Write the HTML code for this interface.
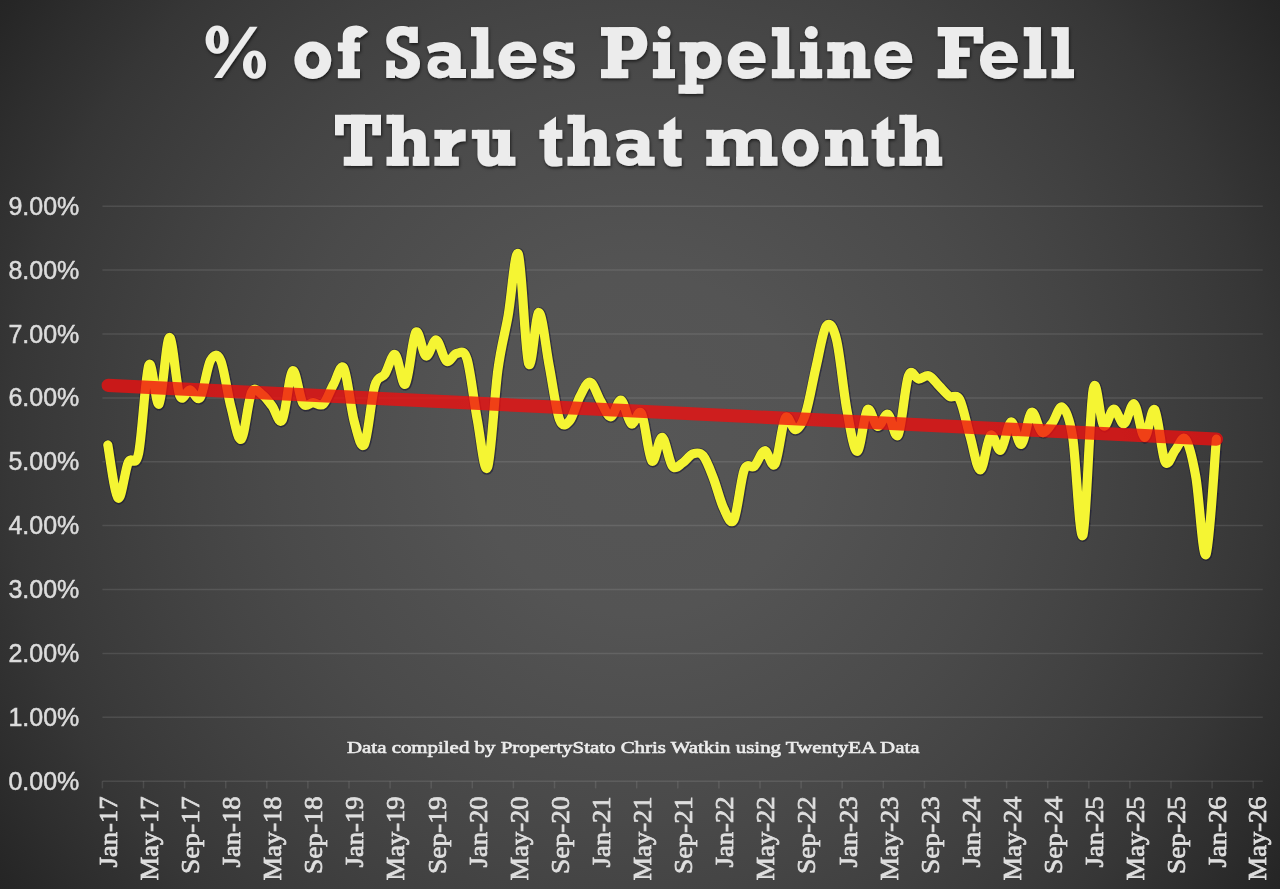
<!DOCTYPE html>
<html><head><meta charset="utf-8"><title>% of Sales Pipeline Fell Thru that month</title>
<style>
html,body{margin:0;padding:0;background:#333;}
body{width:1280px;height:889px;overflow:hidden;position:relative;font-family:"Liberation Sans",sans-serif;}
#bg{position:absolute;left:0;top:0;width:1280px;height:889px;
background:radial-gradient(circle 779.2px at 640px 444.5px, #565656 0%, #545454 21.8%, #4a4a4a 46.6%, #454545 56.5%, #404040 65.3%, #3a3a3a 75.1%, #363636 81%, #333333 84.1%, #2e2e2e 90%, #262626 98.6%, #252525 100%);}
svg{position:absolute;left:0;top:0;}
.grid line{stroke:#fff;stroke-opacity:0.10;stroke-width:1.5;}
.ticks line{stroke:#fff;stroke-opacity:0.10;stroke-width:1.5;}
.ylab text{font-family:"Liberation Sans",sans-serif;font-size:25px;fill:#dcdcdc;stroke:#dcdcdc;stroke-width:0.5px;}
.xlab text{font-family:"Liberation Serif",serif;font-size:26px;fill:#dedede;stroke:#dedede;stroke-width:0.75px;}
.title text{font-family:"Liberation Serif",serif;font-weight:bold;font-size:71px;fill:#ececec;stroke:#ececec;stroke-width:2.6px;stroke-linejoin:miter;}
.cap{font-family:"Liberation Serif",serif;font-size:16.5px;fill:#ececec;stroke:#ececec;stroke-width:0.6px;}
</style></head><body>
<div id="bg"></div>
<svg width="1280" height="889" viewBox="0 0 1280 889">
<defs>
<filter id="nop" x="-5%" y="-5%" width="110%" height="110%"><feOffset dx="0" dy="0"/></filter>
<filter id="ts" x="-5%" y="-20%" width="110%" height="150%"><feDropShadow dx="0.8" dy="1.7" stdDeviation="1.5" flood-color="#000" flood-opacity="0.62"/></filter>
<filter id="ls" x="-2%" y="-10%" width="104%" height="120%"><feGaussianBlur stdDeviation="0.55"/></filter>
<g id="g_pc"><path d="M0.00 -38.40A11.50 14.10 0 1 0 23.00 -38.40A11.50 14.10 0 1 0 0.00 -38.40Z M8.15 -38.40A3.25 9.10 0 1 0 14.65 -38.40A3.25 9.10 0 1 0 8.15 -38.40Z" fill-rule="evenodd"/><path d="M37.40 -13.40A11.50 14.10 0 1 0 60.40 -13.40A11.50 14.10 0 1 0 37.40 -13.40Z M45.65 -13.40A3.25 9.20 0 1 0 52.15 -13.40A3.25 9.20 0 1 0 45.65 -13.40Z" fill-rule="evenodd"/><path d="M44.1 -51.25H51.9L16.25 0H8.4Z"/></g><g id="g_F"><path d="M0.00 -51.00H45.40V-41.85H0.00Z"/><path d="M36.00 -43.00H45.40V-34.60H36.00Z"/><path d="M7.25 -51.00H21.25V0.00H7.25Z"/><path d="M19.50 -30.40H32.00V-21.25H19.50Z"/><path d="M0.00 -9.00H28.75V0.00H0.00Z"/></g><g id="g_P"><path d="M0.00 -9.00H27.25V0.00H0.00Z"/><path d="M6.90 -51.00H20.60V0.00H6.90Z"/><path d="M0.00 -51.00H8.50V-42.25H0.00Z"/><path d="M18.5 -51H32.5A13.75 16.3 0 0 1 32.5 -18.4H18.5Z M20.6 -42.3H27A5.5 7.45 0 0 1 27 -27.4H20.6Z" fill-rule="evenodd"/></g><g id="g_S"><path d="M23.1 -51.25H31.6V-35H23.1V-40.6C21 -42.5 18.5 -43 16.25 -42.9C12.5 -42.7 10.3 -40 10.6 -36.9C10.9 -33.5 13.5 -31.5 17 -30L26 -26C31 -23.5 33.75 -20 33.75 -14.4C33.75 -5.5 27 0.6 18.75 0.6C14 0.6 10.5 -1 8.75 -3.1V0H0V-17.5H8.75V-11.25C10.5 -9.3 12.5 -8.7 15 -8.75C19 -8.8 21.5 -11.5 21.25 -15C21 -18 19 -19.8 16 -21L7 -25.5C2.5 -28 0 -32 0 -38.1C0 -46.5 6.5 -52.1 15 -52.1C18.5 -52.1 21 -51.7 23.1 -50.5Z"/></g><g id="g_T"><path d="M0.00 -51.00H46.00V-41.85H0.00Z"/><path d="M0.00 -43.00H8.75V-30.50H0.00Z"/><path d="M37.25 -43.00H46.00V-30.50H37.25Z"/><path d="M16.00 -51.00H30.00V0.00H16.00Z"/><path d="M8.75 -9.00H37.25V0.00H8.75Z"/></g><g id="g_a"><path d="M0 -31.25C8.1 -36.25 23.1 -38.9 30.6 -31.25C32.8 -29 33.75 -27 33.75 -24V-9H39.1V0H23.1L22.1 -3.1C18.1 0.4 11.9 1.6 5.6 -1.9C0 -5 -1.25 -15 4.4 -20C5.5 -21 7 -21.9 9 -21.9H22.1V-25.4C18.1 -27.8 9.4 -27.8 2.5 -24.5Z M10.10 -11.60A5.90 4.40 0 1 0 21.90 -11.60A5.90 4.40 0 1 0 10.10 -11.60Z" fill-rule="evenodd"/></g><g id="g_e"><path d="M37.7 -15H11.75C11.75 -11 14.5 -8.1 19 -8.1C23 -8.1 25.5 -9 27.5 -10.8L36.9 -9.4C34 -3.5 27.5 0.85 19 0.85C8 0.85 0 -7 0 -17.9C0 -28.8 8 -36.65 18.9 -36.65C30 -36.65 37.8 -28.8 37.8 -18Z M11.75 -21.9H26.25C26.25 -26 23 -28.1 19 -28.1C15 -28.1 11.75 -26 11.75 -21.9Z" fill-rule="evenodd"/></g><g id="g_f"><path d="M0.00 -35.60H22.10V-26.90H0.00Z"/><path d="M0.00 -9.00H22.10V0.00H0.00Z"/><path d="M4.9 0V-41.9C4.9 -49 10 -52.5 18.4 -52.5C23 -52.5 27 -50.5 30.25 -46.25L21.9 -40C20 -42 16.5 -41.5 16.5 -37V0Z"/></g><g id="g_h"><path d="M0.00 -51.00H7.50V-41.90H0.00Z"/><path d="M5.50 -51.00H17.25V0.00H5.50Z"/><path d="M0.00 -9.00H22.25V0.00H0.00Z"/><path d="M15.65 -31.25C19.65 -34.75 23.65 -36.65 28.47 -36.65C35.60 -36.65 39.30 -32.45 39.30 -25.45V0H27.60V-22.00C27.60 -25.30 26.00 -26.90 22.43 -26.90C19.45 -26.90 17.25 -25.00 17.25 -21.00H15.65Z"/><path d="M26.30 -9.00H42.80V0.00H26.30Z"/></g><g id="g_i"><path d="M0.00 -35.90H7.50V-26.90H0.00Z"/><path d="M5.30 -35.90H17.10V0.00H5.30Z"/><path d="M0.00 -9.00H22.10V0.00H0.00Z"/><path d="M4.75 -45.60A6.50 6.50 0 1 0 17.75 -45.60A6.50 6.50 0 1 0 4.75 -45.60Z"/></g><g id="g_l"><path d="M0.00 -51.00H7.50V-41.90H0.00Z"/><path d="M5.60 -51.00H17.20V0.00H5.60Z"/><path d="M0.00 -9.00H22.50V0.00H0.00Z"/></g><g id="g_m"><path d="M0.00 -35.90H7.50V-26.90H0.00Z"/><path d="M5.60 -35.90H17.25V0.00H5.60Z"/><path d="M0.00 -9.00H23.40V0.00H0.00Z"/><path d="M15.65 -31.25C19.65 -34.75 23.65 -36.65 29.62 -36.65C37.90 -36.65 41.60 -32.45 41.60 -25.45V0H30.00V-22.00C30.00 -25.30 28.40 -26.90 23.62 -26.90C19.45 -26.90 17.25 -25.00 17.25 -21.00H15.65Z"/><path d="M30.00 -9.00H47.25V0.00H30.00Z"/><path d="M40.00 -31.25C44.00 -34.75 48.00 -36.65 53.80 -36.65C61.90 -36.65 65.60 -32.45 65.60 -25.45V0H54.10V-22.00C54.10 -25.30 52.50 -26.90 47.85 -26.90C43.80 -26.90 41.60 -25.00 41.60 -21.00H40.00Z"/><path d="M54.10 -9.00H71.25V0.00H54.10Z"/></g><g id="g_n"><path d="M0.00 -35.90H7.50V-26.90H0.00Z"/><path d="M5.25 -35.90H17.20V0.00H5.25Z"/><path d="M0.00 -9.00H22.60V0.00H0.00Z"/><path d="M15.60 -31.25C19.60 -34.75 23.60 -36.65 27.85 -36.65C34.40 -36.65 38.10 -32.45 38.10 -25.45V0H26.40V-22.00C26.40 -25.30 24.80 -26.90 21.80 -26.90C19.40 -26.90 17.20 -25.00 17.20 -21.00H15.60Z"/><path d="M26.20 -9.00H43.10V0.00H26.20Z"/></g><g id="g_o"><path d="M0.00 -17.90A18.40 18.75 0 1 0 36.80 -17.90A18.40 18.75 0 1 0 0.00 -17.90Z M11.60 -17.90A6.70 8.90 0 1 0 25.00 -17.90A6.70 8.90 0 1 0 11.60 -17.90Z" fill-rule="evenodd"/></g><g id="g_p"><path d="M1.00 -35.90H8.50V-26.90H1.00Z"/><path d="M6.80 -35.90H18.10V15.60H6.80Z"/><path d="M0.00 6.60H24.75V15.60H0.00Z"/><path d="M6.90 -17.90A18.10 18.75 0 1 0 43.10 -17.90A18.10 18.75 0 1 0 6.90 -17.90Z M17.85 -17.90A6.90 9.00 0 1 0 31.65 -17.90A6.90 9.00 0 1 0 17.85 -17.90Z" fill-rule="evenodd"/></g><g id="g_r"><path d="M0.00 -35.90H7.50V-26.90H0.00Z"/><path d="M5.60 -35.90H17.50V0.00H5.60Z"/><path d="M0.00 -9.00H24.40V0.00H0.00Z"/><path d="M15.5 -30.9H17C20 -34.3 23 -36.5 26.3 -36.5L31.25 -36.2V-24.6C26 -24.6 19.5 -23 17.3 -16.5H15.5Z"/></g><g id="g_s"><path d="M22.5 -35.6H30V-24.6H22.5V-27.5C20.5 -28.7 18 -29.2 15.6 -29.1C13 -29 11.7 -27.8 11.9 -26.25C12.1 -24.3 14 -23 17 -22L25 -19.3C29.5 -17.7 31.9 -14.7 31.9 -10.6C31.9 -3.5 26 0.6 18.1 0.6C13.5 0.6 10 -0.8 8.1 -3.1V0H0.6V-12.5H8.1V-8.75C10 -7.4 12.5 -6.8 15.6 -6.9C18.8 -7 20.8 -8.2 20.6 -10C20.4 -12 18.5 -13 15.5 -13.8L7 -16.5C2.5 -18 0 -21 0 -25.6C0 -32.5 5.5 -36.6 13.1 -36.6C17 -36.6 20 -35.9 22.5 -34.4Z"/></g><g id="g_t"><path d="M0.00 -35.90H22.90V-26.90H0.00Z"/><path d="M5 -40.9L16.6 -49.25V-11.5C16.6 -9.3 17.8 -8 20 -8H22.9V0C21 0.5 18 0.8 15 0.8C8.5 0.8 5 -2.5 5 -9Z"/></g><g id="g_u"><path d="M0.00 -35.90H7.50V-26.90H0.00Z"/><path d="M20.60 -35.90H28.00V-26.90H20.60Z"/><path d="M26.25 -35.90H38.10V0.00H26.25Z"/><path d="M36.50 -9.00H43.50V0.00H36.50Z"/><path d="M5.6 -35.9H17.25V-13C17.25 -10 19 -8.4 21.75 -8.4C24.5 -8.4 26.25 -10.5 26.25 -14H28V-3.6C24.5 -0.7 21 0.8 17 0.8C10 0.8 5.6 -4 5.6 -11Z"/></g>
</defs>
<g class="grid"><line x1="102.4" x2="1262.8" y1="781.2" y2="781.2"/><line x1="102.4" x2="1262.8" y1="717.3" y2="717.3"/><line x1="102.4" x2="1262.8" y1="653.4" y2="653.4"/><line x1="102.4" x2="1262.8" y1="589.5" y2="589.5"/><line x1="102.4" x2="1262.8" y1="525.6" y2="525.6"/><line x1="102.4" x2="1262.8" y1="461.8" y2="461.8"/><line x1="102.4" x2="1262.8" y1="397.9" y2="397.9"/><line x1="102.4" x2="1262.8" y1="334.0" y2="334.0"/><line x1="102.4" x2="1262.8" y1="270.1" y2="270.1"/><line x1="102.4" x2="1262.8" y1="206.2" y2="206.2"/></g>
<g class="ticks"><line x1="102.4" x2="102.4" y1="781.2" y2="788.4"/><line x1="143.5" x2="143.5" y1="781.2" y2="788.4"/><line x1="184.6" x2="184.6" y1="781.2" y2="788.4"/><line x1="225.7" x2="225.7" y1="781.2" y2="788.4"/><line x1="266.8" x2="266.8" y1="781.2" y2="788.4"/><line x1="307.9" x2="307.9" y1="781.2" y2="788.4"/><line x1="349.0" x2="349.0" y1="781.2" y2="788.4"/><line x1="390.1" x2="390.1" y1="781.2" y2="788.4"/><line x1="431.2" x2="431.2" y1="781.2" y2="788.4"/><line x1="472.3" x2="472.3" y1="781.2" y2="788.4"/><line x1="513.4" x2="513.4" y1="781.2" y2="788.4"/><line x1="554.5" x2="554.5" y1="781.2" y2="788.4"/><line x1="595.6" x2="595.6" y1="781.2" y2="788.4"/><line x1="636.7" x2="636.7" y1="781.2" y2="788.4"/><line x1="677.8" x2="677.8" y1="781.2" y2="788.4"/><line x1="718.9" x2="718.9" y1="781.2" y2="788.4"/><line x1="760.0" x2="760.0" y1="781.2" y2="788.4"/><line x1="801.1" x2="801.1" y1="781.2" y2="788.4"/><line x1="842.2" x2="842.2" y1="781.2" y2="788.4"/><line x1="883.3" x2="883.3" y1="781.2" y2="788.4"/><line x1="924.4" x2="924.4" y1="781.2" y2="788.4"/><line x1="965.5" x2="965.5" y1="781.2" y2="788.4"/><line x1="1006.6" x2="1006.6" y1="781.2" y2="788.4"/><line x1="1047.7" x2="1047.7" y1="781.2" y2="788.4"/><line x1="1088.8" x2="1088.8" y1="781.2" y2="788.4"/><line x1="1129.9" x2="1129.9" y1="781.2" y2="788.4"/><line x1="1171.0" x2="1171.0" y1="781.2" y2="788.4"/><line x1="1212.1" x2="1212.1" y1="781.2" y2="788.4"/><line x1="1253.2" x2="1253.2" y1="781.2" y2="788.4"/></g>
<g class="ylab" filter="url(#nop)"><text x="79.3" y="789.7" text-anchor="end">0.00%</text><text x="79.3" y="725.8" text-anchor="end">1.00%</text><text x="79.3" y="661.9" text-anchor="end">2.00%</text><text x="79.3" y="598.0" text-anchor="end">3.00%</text><text x="79.3" y="534.1" text-anchor="end">4.00%</text><text x="79.3" y="470.3" text-anchor="end">5.00%</text><text x="79.3" y="406.4" text-anchor="end">6.00%</text><text x="79.3" y="342.5" text-anchor="end">7.00%</text><text x="79.3" y="278.6" text-anchor="end">8.00%</text><text x="79.3" y="214.7" text-anchor="end">9.00%</text></g>
<g class="xlab" filter="url(#nop)"><text transform="translate(116.7 796.4) rotate(-90)" text-anchor="end" textLength="71.0" lengthAdjust="spacingAndGlyphs">Jan-17</text><text transform="translate(157.8 796.4) rotate(-90)" text-anchor="end" textLength="84.0" lengthAdjust="spacingAndGlyphs">May-17</text><text transform="translate(198.9 796.4) rotate(-90)" text-anchor="end" textLength="77.7" lengthAdjust="spacingAndGlyphs">Sep-17</text><text transform="translate(240.0 796.4) rotate(-90)" text-anchor="end" textLength="71.0" lengthAdjust="spacingAndGlyphs">Jan-18</text><text transform="translate(281.1 796.4) rotate(-90)" text-anchor="end" textLength="84.0" lengthAdjust="spacingAndGlyphs">May-18</text><text transform="translate(322.2 796.4) rotate(-90)" text-anchor="end" textLength="77.7" lengthAdjust="spacingAndGlyphs">Sep-18</text><text transform="translate(363.3 796.4) rotate(-90)" text-anchor="end" textLength="71.0" lengthAdjust="spacingAndGlyphs">Jan-19</text><text transform="translate(404.4 796.4) rotate(-90)" text-anchor="end" textLength="84.0" lengthAdjust="spacingAndGlyphs">May-19</text><text transform="translate(445.5 796.4) rotate(-90)" text-anchor="end" textLength="77.7" lengthAdjust="spacingAndGlyphs">Sep-19</text><text transform="translate(486.6 796.4) rotate(-90)" text-anchor="end" textLength="71.0" lengthAdjust="spacingAndGlyphs">Jan-20</text><text transform="translate(527.7 796.4) rotate(-90)" text-anchor="end" textLength="84.0" lengthAdjust="spacingAndGlyphs">May-20</text><text transform="translate(568.8 796.4) rotate(-90)" text-anchor="end" textLength="77.7" lengthAdjust="spacingAndGlyphs">Sep-20</text><text transform="translate(609.9 796.4) rotate(-90)" text-anchor="end" textLength="71.0" lengthAdjust="spacingAndGlyphs">Jan-21</text><text transform="translate(651.0 796.4) rotate(-90)" text-anchor="end" textLength="84.0" lengthAdjust="spacingAndGlyphs">May-21</text><text transform="translate(692.1 796.4) rotate(-90)" text-anchor="end" textLength="77.7" lengthAdjust="spacingAndGlyphs">Sep-21</text><text transform="translate(733.2 796.4) rotate(-90)" text-anchor="end" textLength="71.0" lengthAdjust="spacingAndGlyphs">Jan-22</text><text transform="translate(774.3 796.4) rotate(-90)" text-anchor="end" textLength="84.0" lengthAdjust="spacingAndGlyphs">May-22</text><text transform="translate(815.4 796.4) rotate(-90)" text-anchor="end" textLength="77.7" lengthAdjust="spacingAndGlyphs">Sep-22</text><text transform="translate(856.5 796.4) rotate(-90)" text-anchor="end" textLength="71.0" lengthAdjust="spacingAndGlyphs">Jan-23</text><text transform="translate(897.6 796.4) rotate(-90)" text-anchor="end" textLength="84.0" lengthAdjust="spacingAndGlyphs">May-23</text><text transform="translate(938.7 796.4) rotate(-90)" text-anchor="end" textLength="77.7" lengthAdjust="spacingAndGlyphs">Sep-23</text><text transform="translate(979.8 796.4) rotate(-90)" text-anchor="end" textLength="71.0" lengthAdjust="spacingAndGlyphs">Jan-24</text><text transform="translate(1020.9 796.4) rotate(-90)" text-anchor="end" textLength="84.0" lengthAdjust="spacingAndGlyphs">May-24</text><text transform="translate(1062.0 796.4) rotate(-90)" text-anchor="end" textLength="77.7" lengthAdjust="spacingAndGlyphs">Sep-24</text><text transform="translate(1103.1 796.4) rotate(-90)" text-anchor="end" textLength="71.0" lengthAdjust="spacingAndGlyphs">Jan-25</text><text transform="translate(1144.2 796.4) rotate(-90)" text-anchor="end" textLength="84.0" lengthAdjust="spacingAndGlyphs">May-25</text><text transform="translate(1185.3 796.4) rotate(-90)" text-anchor="end" textLength="77.7" lengthAdjust="spacingAndGlyphs">Sep-25</text><text transform="translate(1226.4 796.4) rotate(-90)" text-anchor="end" textLength="71.0" lengthAdjust="spacingAndGlyphs">Jan-26</text><text transform="translate(1265.8 796.4) rotate(-90)" text-anchor="end" textLength="84.0" lengthAdjust="spacingAndGlyphs">May-26</text></g>
<g class="title" filter="url(#ts)" fill="#ececec" role="img" aria-label="% of Sales Pipeline Fell Thru that month"><use href="#g_pc" x="205.60" y="78.10"/><use href="#g_o" x="294.40" y="78.10"/><use href="#g_f" x="337.90" y="78.10"/><use href="#g_S" x="386.25" y="78.10"/><use href="#g_a" x="426.90" y="78.10"/><use href="#g_l" x="471.00" y="78.10"/><use href="#g_e" x="498.50" y="78.10"/><use href="#g_s" x="543.10" y="78.10"/><use href="#g_P" x="601.00" y="78.10"/><use href="#g_i" x="652.90" y="78.10"/><use href="#g_p" x="678.50" y="78.10"/><use href="#g_e" x="727.75" y="78.10"/><use href="#g_l" x="771.90" y="78.10"/><use href="#g_i" x="800.00" y="78.10"/><use href="#g_n" x="827.25" y="78.10"/><use href="#g_e" x="874.40" y="78.10"/><use href="#g_F" x="937.75" y="78.10"/><use href="#g_e" x="980.00" y="78.10"/><use href="#g_l" x="1023.75" y="78.10"/><use href="#g_l" x="1051.50" y="78.10"/><use href="#g_T" x="335.00" y="165.75"/><use href="#g_h" x="386.50" y="165.75"/><use href="#g_r" x="434.40" y="165.75"/><use href="#g_u" x="471.90" y="165.75"/><use href="#g_t" x="539.40" y="165.75"/><use href="#g_h" x="567.50" y="165.75"/><use href="#g_a" x="615.60" y="165.75"/><use href="#g_t" x="658.75" y="165.75"/><use href="#g_m" x="706.25" y="165.75"/><use href="#g_o" x="781.90" y="165.75"/><use href="#g_n" x="825.00" y="165.75"/><use href="#g_t" x="871.60" y="165.75"/><use href="#g_h" x="899.40" y="165.75"/></g>
<text class="cap" filter="url(#nop)" x="347" y="752.5" textLength="572.5" lengthAdjust="spacingAndGlyphs">Data compiled by PropertyStato Chris Watkin using TwentyEA Data</text>
<path d="M107.80 444.96C109.51 453.81 114.64 495.20 118.06 498.08C121.49 500.96 124.91 469.71 128.33 462.24C131.75 454.77 135.17 469.49 138.59 453.28C142.02 437.07 145.44 373.17 148.86 364.96C152.28 356.75 155.70 408.59 159.12 404.00C162.54 399.41 165.97 338.88 169.39 337.44C172.81 336.00 176.23 386.61 179.65 395.36C183.07 404.11 186.49 389.55 189.92 389.92C193.34 390.29 196.76 402.51 200.18 397.60C203.60 392.69 207.02 366.67 210.44 360.48C213.87 354.29 217.29 352.69 220.71 360.48C224.13 368.27 227.55 394.08 230.97 407.20C234.40 420.32 237.82 441.65 241.24 439.20C244.66 436.75 248.08 399.95 251.50 392.48C254.92 385.01 258.35 392.16 261.77 394.40C265.19 396.64 268.61 401.65 272.03 405.92C275.45 410.19 278.88 425.87 282.30 420.00C285.72 414.13 289.14 373.49 292.56 370.72C295.98 367.95 299.40 398.03 302.83 403.36C306.25 408.69 309.67 402.61 313.09 402.72C316.51 402.83 319.93 407.09 323.35 404.00C326.78 400.91 330.20 390.13 333.62 384.16C337.04 378.19 340.46 361.97 343.88 368.16C347.30 374.35 350.73 408.59 354.15 421.28C357.57 433.97 360.99 450.19 364.41 444.32C367.83 438.45 371.26 397.81 374.68 386.08C378.10 374.35 381.52 379.15 384.94 373.92C388.36 368.69 391.78 353.01 395.21 354.72C398.63 356.43 402.05 387.89 405.47 384.16C408.89 380.43 412.31 337.01 415.74 332.32C419.16 327.63 422.58 354.72 426.00 356.00C429.42 357.28 432.84 339.15 436.26 340.00C439.69 340.85 443.11 358.88 446.53 361.12C449.95 363.36 453.37 353.76 456.79 353.44C460.21 353.12 463.64 348.11 467.06 359.20C470.48 370.29 473.90 401.97 477.32 420.00C480.74 438.03 484.17 475.68 487.59 467.36C491.01 459.04 494.43 395.36 497.85 370.08C501.27 344.80 504.69 334.99 508.12 315.68C511.54 296.37 514.96 246.24 518.38 254.24C521.80 262.24 525.22 353.97 528.64 363.68C532.07 373.39 535.49 312.16 538.91 312.48C542.33 312.80 545.75 347.79 549.17 365.60C552.60 383.41 556.02 410.19 559.44 419.36C562.86 428.53 566.28 424.48 569.70 420.64C573.12 416.80 576.55 402.72 579.97 396.32C583.39 389.92 586.81 381.49 590.23 382.24C593.65 382.99 597.07 395.04 600.50 400.80C603.92 406.56 607.34 416.91 610.76 416.80C614.18 416.69 617.60 398.99 621.02 400.16C624.45 401.33 627.87 421.60 631.29 423.84C634.71 426.08 638.13 407.41 641.55 413.60C644.98 419.79 648.40 457.01 651.82 460.96C655.24 464.91 658.66 436.43 662.08 437.28C665.50 438.13 668.93 461.81 672.35 466.08C675.77 470.35 679.19 464.91 682.61 462.88C686.03 460.85 689.45 455.09 692.88 453.92C696.30 452.75 699.72 451.79 703.14 455.84C706.56 459.89 709.98 469.49 713.41 478.24C716.83 486.99 720.25 501.39 723.67 508.32C727.09 515.25 730.51 526.24 733.93 519.84C737.36 513.44 740.78 478.88 744.20 469.92C747.62 460.96 751.04 469.28 754.46 466.08C757.88 462.88 761.31 451.04 764.73 450.72C768.15 450.40 771.57 469.60 774.99 464.16C778.41 458.72 781.84 423.84 785.26 418.08C788.68 412.32 792.10 430.45 795.52 429.60C798.94 428.75 802.36 423.41 805.79 412.96C809.21 402.51 812.63 381.39 816.05 366.88C819.47 352.37 822.89 330.40 826.31 325.92C829.74 321.44 833.16 326.03 836.58 340.00C840.00 353.97 843.42 391.20 846.84 409.76C850.27 428.32 853.69 451.36 857.11 451.36C860.53 451.36 863.95 413.92 867.37 409.76C870.79 405.60 874.22 425.65 877.64 426.40C881.06 427.15 884.48 412.85 887.90 414.24C891.32 415.63 894.74 441.12 898.17 434.72C901.59 428.32 905.01 385.12 908.43 375.84C911.85 366.56 915.27 379.04 918.70 379.04C922.12 379.04 925.54 374.67 928.96 375.84C932.38 377.01 935.80 382.67 939.22 386.08C942.65 389.49 946.07 394.08 949.49 396.32C952.91 398.56 956.33 392.91 959.75 399.52C963.17 406.13 966.60 424.27 970.02 436.00C973.44 447.73 976.86 470.03 980.28 469.92C983.70 469.81 987.13 438.67 990.55 435.36C993.97 432.05 997.39 452.32 1000.81 450.08C1004.23 447.84 1007.65 422.88 1011.08 421.92C1014.50 420.96 1017.92 445.92 1021.34 444.32C1024.76 442.72 1028.18 414.35 1031.61 412.32C1035.03 410.29 1038.45 430.35 1041.87 432.16C1045.29 433.97 1048.71 427.36 1052.13 423.20C1055.56 419.04 1058.98 404.85 1062.40 407.20C1065.82 409.55 1069.24 415.95 1072.66 437.28C1076.08 458.61 1079.51 543.20 1082.93 535.20C1086.35 527.20 1089.77 407.52 1093.19 389.28C1096.61 371.04 1100.04 422.45 1103.46 425.76C1106.88 429.07 1110.30 409.44 1113.72 409.12C1117.14 408.80 1120.56 424.69 1123.99 423.84C1127.41 422.99 1130.83 401.76 1134.25 404.00C1137.67 406.24 1141.09 436.32 1144.51 437.28C1147.94 438.24 1151.36 405.71 1154.78 409.76C1158.20 413.81 1161.62 454.88 1165.04 461.60C1168.46 468.32 1171.89 453.81 1175.31 450.08C1178.73 446.35 1182.15 434.72 1185.57 439.20C1188.99 443.68 1192.42 457.76 1195.84 476.96C1199.26 496.16 1202.68 560.69 1206.10 554.40C1209.52 548.11 1214.66 458.40 1216.37 439.20" fill="none" stroke="#15152e" stroke-opacity="0.56" stroke-width="11.3" stroke-linecap="round" stroke-linejoin="round" filter="url(#ls)" transform="translate(0.35 0.45)"/>
<path d="M107.80 444.96C109.51 453.81 114.64 495.20 118.06 498.08C121.49 500.96 124.91 469.71 128.33 462.24C131.75 454.77 135.17 469.49 138.59 453.28C142.02 437.07 145.44 373.17 148.86 364.96C152.28 356.75 155.70 408.59 159.12 404.00C162.54 399.41 165.97 338.88 169.39 337.44C172.81 336.00 176.23 386.61 179.65 395.36C183.07 404.11 186.49 389.55 189.92 389.92C193.34 390.29 196.76 402.51 200.18 397.60C203.60 392.69 207.02 366.67 210.44 360.48C213.87 354.29 217.29 352.69 220.71 360.48C224.13 368.27 227.55 394.08 230.97 407.20C234.40 420.32 237.82 441.65 241.24 439.20C244.66 436.75 248.08 399.95 251.50 392.48C254.92 385.01 258.35 392.16 261.77 394.40C265.19 396.64 268.61 401.65 272.03 405.92C275.45 410.19 278.88 425.87 282.30 420.00C285.72 414.13 289.14 373.49 292.56 370.72C295.98 367.95 299.40 398.03 302.83 403.36C306.25 408.69 309.67 402.61 313.09 402.72C316.51 402.83 319.93 407.09 323.35 404.00C326.78 400.91 330.20 390.13 333.62 384.16C337.04 378.19 340.46 361.97 343.88 368.16C347.30 374.35 350.73 408.59 354.15 421.28C357.57 433.97 360.99 450.19 364.41 444.32C367.83 438.45 371.26 397.81 374.68 386.08C378.10 374.35 381.52 379.15 384.94 373.92C388.36 368.69 391.78 353.01 395.21 354.72C398.63 356.43 402.05 387.89 405.47 384.16C408.89 380.43 412.31 337.01 415.74 332.32C419.16 327.63 422.58 354.72 426.00 356.00C429.42 357.28 432.84 339.15 436.26 340.00C439.69 340.85 443.11 358.88 446.53 361.12C449.95 363.36 453.37 353.76 456.79 353.44C460.21 353.12 463.64 348.11 467.06 359.20C470.48 370.29 473.90 401.97 477.32 420.00C480.74 438.03 484.17 475.68 487.59 467.36C491.01 459.04 494.43 395.36 497.85 370.08C501.27 344.80 504.69 334.99 508.12 315.68C511.54 296.37 514.96 246.24 518.38 254.24C521.80 262.24 525.22 353.97 528.64 363.68C532.07 373.39 535.49 312.16 538.91 312.48C542.33 312.80 545.75 347.79 549.17 365.60C552.60 383.41 556.02 410.19 559.44 419.36C562.86 428.53 566.28 424.48 569.70 420.64C573.12 416.80 576.55 402.72 579.97 396.32C583.39 389.92 586.81 381.49 590.23 382.24C593.65 382.99 597.07 395.04 600.50 400.80C603.92 406.56 607.34 416.91 610.76 416.80C614.18 416.69 617.60 398.99 621.02 400.16C624.45 401.33 627.87 421.60 631.29 423.84C634.71 426.08 638.13 407.41 641.55 413.60C644.98 419.79 648.40 457.01 651.82 460.96C655.24 464.91 658.66 436.43 662.08 437.28C665.50 438.13 668.93 461.81 672.35 466.08C675.77 470.35 679.19 464.91 682.61 462.88C686.03 460.85 689.45 455.09 692.88 453.92C696.30 452.75 699.72 451.79 703.14 455.84C706.56 459.89 709.98 469.49 713.41 478.24C716.83 486.99 720.25 501.39 723.67 508.32C727.09 515.25 730.51 526.24 733.93 519.84C737.36 513.44 740.78 478.88 744.20 469.92C747.62 460.96 751.04 469.28 754.46 466.08C757.88 462.88 761.31 451.04 764.73 450.72C768.15 450.40 771.57 469.60 774.99 464.16C778.41 458.72 781.84 423.84 785.26 418.08C788.68 412.32 792.10 430.45 795.52 429.60C798.94 428.75 802.36 423.41 805.79 412.96C809.21 402.51 812.63 381.39 816.05 366.88C819.47 352.37 822.89 330.40 826.31 325.92C829.74 321.44 833.16 326.03 836.58 340.00C840.00 353.97 843.42 391.20 846.84 409.76C850.27 428.32 853.69 451.36 857.11 451.36C860.53 451.36 863.95 413.92 867.37 409.76C870.79 405.60 874.22 425.65 877.64 426.40C881.06 427.15 884.48 412.85 887.90 414.24C891.32 415.63 894.74 441.12 898.17 434.72C901.59 428.32 905.01 385.12 908.43 375.84C911.85 366.56 915.27 379.04 918.70 379.04C922.12 379.04 925.54 374.67 928.96 375.84C932.38 377.01 935.80 382.67 939.22 386.08C942.65 389.49 946.07 394.08 949.49 396.32C952.91 398.56 956.33 392.91 959.75 399.52C963.17 406.13 966.60 424.27 970.02 436.00C973.44 447.73 976.86 470.03 980.28 469.92C983.70 469.81 987.13 438.67 990.55 435.36C993.97 432.05 997.39 452.32 1000.81 450.08C1004.23 447.84 1007.65 422.88 1011.08 421.92C1014.50 420.96 1017.92 445.92 1021.34 444.32C1024.76 442.72 1028.18 414.35 1031.61 412.32C1035.03 410.29 1038.45 430.35 1041.87 432.16C1045.29 433.97 1048.71 427.36 1052.13 423.20C1055.56 419.04 1058.98 404.85 1062.40 407.20C1065.82 409.55 1069.24 415.95 1072.66 437.28C1076.08 458.61 1079.51 543.20 1082.93 535.20C1086.35 527.20 1089.77 407.52 1093.19 389.28C1096.61 371.04 1100.04 422.45 1103.46 425.76C1106.88 429.07 1110.30 409.44 1113.72 409.12C1117.14 408.80 1120.56 424.69 1123.99 423.84C1127.41 422.99 1130.83 401.76 1134.25 404.00C1137.67 406.24 1141.09 436.32 1144.51 437.28C1147.94 438.24 1151.36 405.71 1154.78 409.76C1158.20 413.81 1161.62 454.88 1165.04 461.60C1168.46 468.32 1171.89 453.81 1175.31 450.08C1178.73 446.35 1182.15 434.72 1185.57 439.20C1188.99 443.68 1192.42 457.76 1195.84 476.96C1199.26 496.16 1202.68 560.69 1206.10 554.40C1209.52 548.11 1214.66 458.40 1216.37 439.20" fill="none" stroke="#f5f533" stroke-width="9.2" stroke-linecap="round" stroke-linejoin="round"/>
<line x1="108.2" y1="385.4" x2="1216.4" y2="439.2" stroke="#ee0f0f" stroke-opacity="0.79" stroke-width="13.2" stroke-linecap="round"/>
</svg>
</body></html>
